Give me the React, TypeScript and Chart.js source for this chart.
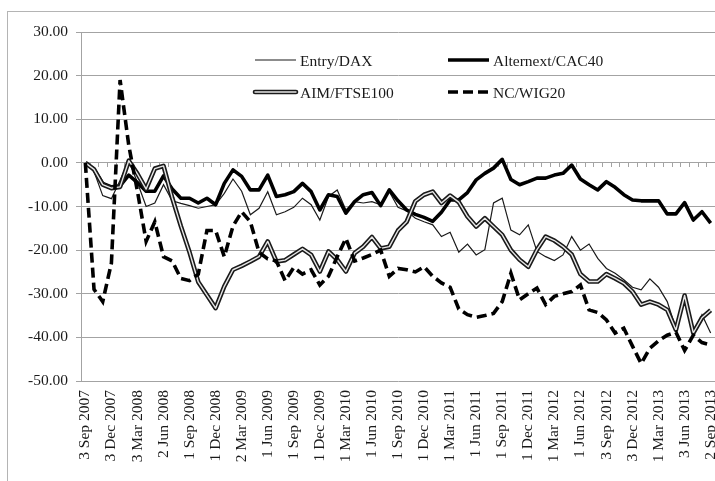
import { useEffect, useRef } from "react";
import { Chart, registerables } from "chart.js";

Chart.register(...registerables);

const tickLabels = [
  "3 Sep 2007", "3 Dec 2007", "3 Mar 2008", "2 Jun 2008", "1 Sep 2008",
  "1 Dec 2008", "2 Mar 2009", "1 Jun 2009", "1 Sep 2009", "1 Dec 2009",
  "1 Mar 2010", "1 Jun 2010", "1 Sep 2010", "1 Dec 2010", "1 Mar 2011",
  "1 Jun 2011", "1 Sep 2011", "1 Dec 2011", "1 Mar 2012", "1 Jun 2012",
  "3 Sep 2012", "3 Dec 2012", "1 Mar 2013", "3 Jun 2013", "2 Sep 2013",
];

const entryDax = [
  0, -2, -7.5, -8.2, -4, 0.5, -4.5, -10, -9.2, -5, -8.7, -9.3,
  -9.8, -10.4, -10, -9.6, -7, -3.7, -6.5, -11.9, -10.4, -6.6, -11.9, -11.2,
  -10.2, -8.1, -9.6, -13.1, -7.7, -6.2, -10.8, -8.9, -9.2, -8.9, -9.6, -6.6,
  -10.2, -11, -12.7, -13.5, -14.2, -16.9, -15.9, -20.5, -18.6, -21.1, -19.9, -9.2,
  -8.1, -15.4, -16.5, -14.2, -20.3, -21.5, -22.4, -21.1, -16.9, -20, -18.6, -21.9,
  -24.2, -25.3, -26.8, -28.5, -29.1, -26.6, -28.5, -31.8, -38, -31, -39, -34.8,
  -39,
];

const alternextCac40 = [
  0, -1.5, -4.7, -5.5, -5.3, -2.8, -4.5, -6.5, -6.5, -3, -6, -8.1,
  -8.1, -9.2, -8.1, -9.6, -4.7, -1.6, -3.1, -6.2, -6.2, -2.8, -7.7, -7.3,
  -6.6, -4.7, -6.6, -10.8, -7.3, -7.7, -11.5, -8.9, -7.3, -6.8, -9.8, -6.2,
  -8.7, -10.8, -11.8, -12.5, -13.4, -11.3, -8.5, -8.5, -6.8, -3.9, -2.4, -1.2,
  0.8, -3.8, -5, -4.3, -3.5, -3.5, -2.8, -2.4, -0.5, -3.7, -5, -6.2,
  -4.3, -5.6, -7.3, -8.5, -8.7, -8.7, -8.7, -11.7, -11.7, -9.1, -13.1, -11.2,
  -13.8,
];

const aimFtse100 = [
  0, -1.5, -5, -5.8, -5.5, 0.5, -2.5, -6, -1.3, -0.7, -8, -14.5,
  -20.5, -27.3, -30.3, -33.3, -28.3, -24.5, -23.6, -22.6, -21.5, -18, -22.6, -22.3,
  -21, -19.7, -21.1, -24.9, -20.3, -22.2, -24.9, -20.7, -19.2, -17, -19.6, -19.2,
  -15.5, -13.5, -8.8, -7.3, -6.6, -9.2, -7.5, -9, -12.3, -14.6, -12.7, -14.6,
  -16.5, -20, -22.2, -23.8, -19.9, -16.9, -17.8, -19.2, -21, -25.5, -27.2, -27.2,
  -25.5, -26.5, -27.6, -29.5, -32.5, -31.8, -32.5, -33.7, -38.3, -30.4, -39, -35.5,
  -33.8,
];

const ncWig20 = [
  0, -29, -31.8, -23, 19, 4, -6.5, -18, -13.5, -21.5, -22.5, -26.5,
  -27, -25.5, -15.5, -15.5, -21.5, -14.5, -11.2, -13.5, -20.5, -22, -22.5, -27,
  -24, -25.5, -24.5, -28, -26, -21.5, -17.3, -22.5, -21.8, -21, -20, -26,
  -24.2, -24.5, -25, -23.8, -26, -27.5, -28.5, -33.5, -34.8, -35.4, -35, -34.5,
  -31.8, -25.3, -31.4, -30, -28.7, -32.5, -30.6, -30, -29.5, -28, -33.7, -34.3,
  -36, -39, -37.9, -42, -46, -42.5, -40.8, -39.5, -38.8, -43, -39.5, -41.2,
  -41.7,
];

// monthly categories; only every third month carries a visible label
const categories = entryDax.map((_, i) => (i % 3 === 0 ? tickLabels[i / 3] : ""));

const FONT = "'Liberation Serif', 'Times New Roman', serif";
const TEXT = "#1a1a1a";
const GRID = "#a3a3a3";

const decorPlugin = {
  id: "decor",
  beforeDatasetsDraw(chart: any) {
    const { ctx, chartArea, scales } = chart;
    const y0 = scales.y.getPixelForValue(0);
    const n = chart.data.labels.length;
    const w = (chartArea.right - chartArea.left) / n;
    ctx.save();
    ctx.strokeStyle = GRID;
    ctx.lineWidth = 1;
    ctx.beginPath();
    for (let k = 1; k < n; k++) {
      const px = Math.round(chartArea.left + k * w) + 0.5;
      ctx.moveTo(px, Math.round(y0));
      ctx.lineTo(px, Math.round(y0) + 4);
    }
    ctx.stroke();
    ctx.restore();
  },
  afterDatasetsDraw(chart: any) {
    const { ctx, chartArea } = chart;
    const L = chartArea.left;
    const T = chartArea.top;
    const items = [
      { text: "Entry/DAX", x: L + 174, y: T + 28, kind: "thin" },
      { text: "Alternext/CAC40", x: L + 367, y: T + 28, kind: "thick" },
      { text: "AIM/FTSE100", x: L + 174, y: T + 60, kind: "double" },
      { text: "NC/WIG20", x: L + 367, y: T + 60, kind: "dash" },
    ];
    ctx.save();
    for (const it of items) {
      const x1 = it.x;
      const x2 = it.x + 41;
      ctx.setLineDash([]);
      ctx.lineCap = "butt";
      ctx.beginPath();
      ctx.moveTo(x1, it.y);
      ctx.lineTo(x2, it.y);
      if (it.kind === "thin") {
        ctx.strokeStyle = TEXT;
        ctx.lineWidth = 1.2;
        ctx.stroke();
      } else if (it.kind === "thick") {
        ctx.strokeStyle = "#000";
        ctx.lineWidth = 3.6;
        ctx.stroke();
      } else if (it.kind === "double") {
        ctx.strokeStyle = TEXT;
        ctx.lineWidth = 4.6;
        ctx.lineCap = "round";
        ctx.stroke();
        ctx.strokeStyle = "#e6e6e6";
        ctx.lineWidth = 1.4;
        ctx.stroke();
      } else {
        ctx.strokeStyle = "#000";
        ctx.lineWidth = 3.6;
        ctx.setLineDash([10, 5]);
        ctx.stroke();
      }
      ctx.setLineDash([]);
      ctx.fillStyle = TEXT;
      ctx.font = `15.5px ${FONT}`;
      ctx.textBaseline = "alphabetic";
      ctx.textAlign = "left";
      ctx.fillText(it.text, x2 + 4, it.y + 5.5);
    }
    ctx.restore();
  },
};

export default function App() {
  const ref = useRef<HTMLCanvasElement>(null);

  useEffect(() => {
    const canvas = ref.current;
    if (!canvas) return;
    const base = { pointRadius: 0, pointHoverRadius: 0, tension: 0, fill: false };
    const chart = new Chart(canvas, {
      type: "line",
      data: {
        labels: categories,
        datasets: [
          { ...base, label: "Entry/DAX", data: entryDax, borderColor: TEXT, borderWidth: 1.2, order: 5 },
          {
            ...base, label: "Alternext/CAC40", data: alternextCac40, borderColor: "#000",
            borderWidth: 3.6, borderJoinStyle: "round", order: 4,
          },
          {
            ...base, label: "AIM/FTSE100", data: aimFtse100, borderColor: TEXT,
            borderWidth: 4.6, borderJoinStyle: "round", order: 3,
          },
          {
            ...base, label: "AIM/FTSE100 (inner)", data: aimFtse100, borderColor: "#e6e6e6",
            borderWidth: 1.4, borderJoinStyle: "round", order: 2,
          },
          {
            ...base, label: "NC/WIG20", data: ncWig20, borderColor: "#000",
            borderWidth: 3.6, borderDash: [10, 5], order: 1,
          },
        ] as any,
      },
      options: {
        responsive: false,
        animation: false,
        devicePixelRatio: 1,
        layout: { padding: { top: 32, right: 25, left: 0, bottom: 0 } },
        plugins: { legend: { display: false }, tooltip: { enabled: false } },
        events: [],
        scales: {
          x: {
            type: "category",
            offset: true,
            grid: { display: false, drawTicks: false },
            border: { display: false },
            ticks: {
              autoSkip: false,
              maxRotation: 90,
              minRotation: 90,
              padding: 9,
              color: TEXT,
              font: { family: FONT, size: 15.5 },
            },
            afterFit: (s: any) => {
              s.height = 100;
            },
          },
          y: {
            min: -50,
            max: 30,
            ticks: {
              stepSize: 10,
              padding: 8,
              color: TEXT,
              font: { family: FONT, size: 15.5 },
              callback: (v: any) => Number(v).toFixed(2),
            },
            grid: { color: GRID, lineWidth: 1, tickLength: 5, drawTicks: true },
            border: { display: true, color: GRID },
            afterFit: (s: any) => {
              s.width = 81;
            },
          },
        },
      },
      plugins: [decorPlugin],
    });
    return () => chart.destroy();
  }, []);

  return (
    <div style={{ position: "absolute", left: 0, top: 0, width: 715, height: 481, overflow: "hidden", background: "#fff" }}>
      <div
        style={{
          position: "absolute", left: 7, top: 11, width: 800, height: 600,
          border: "1px solid #b4b4b4", boxSizing: "border-box",
        }}
      />
      <canvas
        ref={ref}
        width={740}
        height={481}
        style={{ position: "absolute", left: 0, top: 0, width: 740, height: 481 }}
      />
    </div>
  );
}
